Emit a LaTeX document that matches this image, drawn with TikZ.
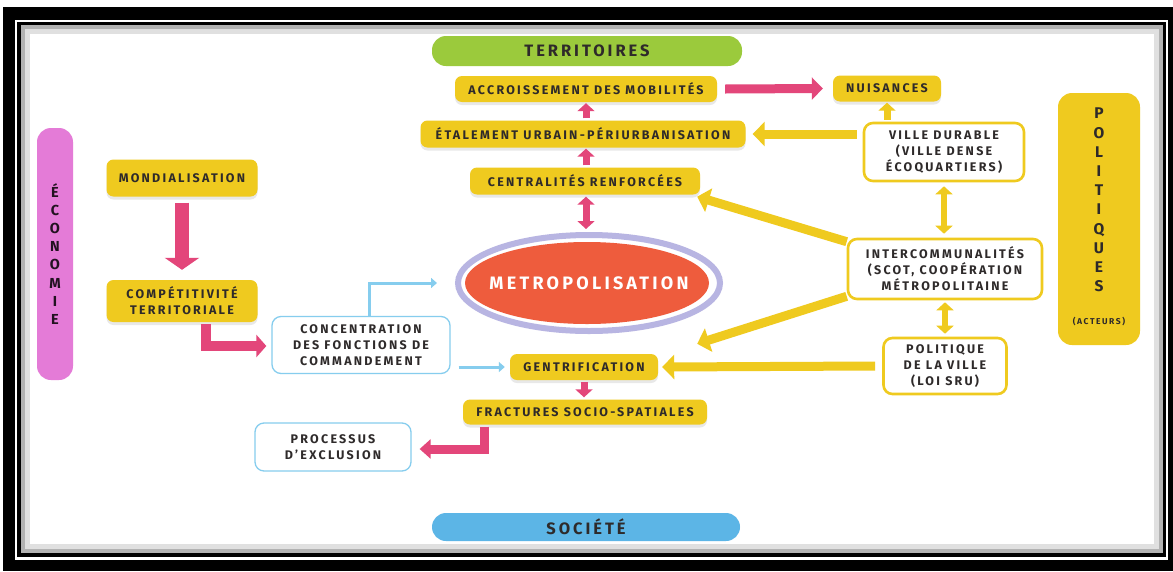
\documentclass[tikz,border=0pt]{standalone}
\usepackage{fontspec}
\setmainfont{Fira Sans}
\newfontfamily\lab{Fira Sans}[LetterSpace=18]
\newfontfamily\labn{Fira Sans}
\usetikzlibrary{arrows.meta,calc,shadows,shapes.geometric}
\definecolor{cy}{HTML}{EFCA1F}
\definecolor{cpk}{HTML}{E3467A}
\definecolor{cbl}{HTML}{86CDEE}
\definecolor{cgr}{HTML}{9BCA3C}
\definecolor{csoc}{HTML}{5CB5E6}
\definecolor{ceco}{HTML}{E47BD7}
\definecolor{ctx}{HTML}{2E2A2A}
\definecolor{cred}{HTML}{EE5C3D}
\definecolor{cring}{HTML}{B8B5E2}
\tikzset{
  lbl/.style={font=\lab\bfseries\fontsize{12.5}{16}\selectfont, text=ctx, align=center, inner sep=0pt},
  ybox/.style={lbl, fill=cy, rounded corners=7pt,
    drop shadow={shadow xshift=0pt, shadow yshift=-3pt, opacity=0.18}},
  wbox/.style={lbl, draw=cy, line width=2.6pt, fill=white, rounded corners=9pt},
  bbox/.style={lbl, draw=cbl, line width=1.3pt, fill=white, rounded corners=9pt},
  pill/.style={font=\lab\bfseries\fontsize{16.5}{18}\selectfont, text=ctx, inner sep=0pt, rounded corners=14pt},
  parrow/.style={draw=cpk, line width=9pt, -{Triangle[length=11pt,width=22pt]}},
  psmall/.style={draw=cpk, line width=7pt, -{Triangle[length=8pt,width=17pt]}},
  pdouble/.style={draw=cpk, line width=7pt, {Triangle[length=8pt,width=17pt]}-{Triangle[length=8pt,width=17pt]}},
  yarrow/.style={draw=cy, line width=9pt, -{Triangle[length=12pt,width=24pt]}},
  ysmall/.style={draw=cy, line width=7pt, -{Triangle[length=8pt,width=17pt]}},
  ydouble/.style={draw=cy, line width=6pt, {Triangle[length=8pt,width=17pt]}-{Triangle[length=8pt,width=17pt]}},
  barrow/.style={draw=cbl, line width=3pt, -{Triangle[length=6pt,width=10pt]}},
}
\begin{document}
\begin{tikzpicture}[x=1pt,y=-1pt]
\useasboundingbox (0,0) rectangle (1173,571);
% frame
\fill[white] (0,0) rectangle (1173,571);
\fill[black] (3,7) rectangle (1173,571);
\fill[white] (15,20) rectangle (1168,560);
\fill[black] (17,22) rectangle (1166,557);
\fill[white] (21,25) rectangle (1163,553);
\draw[black!30, line width=4pt] (23,27) rectangle (1161,551);
\draw[black!12, line width=5pt] (27.5,31.5) rectangle (1156.5,546.5);

% band labels
\node[pill, fill=cgr, minimum width=310pt, minimum height=30pt] (ter) at (587,51) {TERRITOIRES};
\node[pill, fill=csoc, minimum width=308pt, minimum height=28pt] (soc) at (586,527) {SOCIÉTÉ};
\node[lbl, fill=ceco, rounded corners=14pt, minimum width=36pt, minimum height=252pt,
      font=\labn\bfseries\fontsize{14.5}{18.1}\selectfont, text=black!85!ceco] (eco) at (55,254) {É\\C\\O\\N\\O\\M\\I\\E};
\node[lbl, fill=cy, rounded corners=14pt, minimum width=82pt, minimum height=252pt] (polq) at (1099,219) {};
\node[lbl, font=\labn\bfseries\fontsize{15.5}{19.2}\selectfont, anchor=north] (polqt) at (1099,108) {P\\O\\L\\I\\T\\I\\Q\\U\\E\\S};
\node[lbl, font=\lab\bfseries\fontsize{8.5}{10}\selectfont] (act) at (1099,322) {(ACTEURS)};

% territoires column
\node[ybox, minimum width=262pt, minimum height=26pt] (acc) at (586,89) {ACCROISSEMENT DES MOBILITÉS};
\node[ybox, minimum width=108pt, minimum height=26pt] (nui) at (887,88.5) {NUISANCES};
\node[ybox, minimum width=325pt, minimum height=27pt] (eta) at (583,134) {ÉTALEMENT URBAIN-PÉRIURBANISATION};
\node[ybox, minimum width=230pt, minimum height=27pt] (cen) at (585,181) {CENTRALITÉS RENFORCÉES};

% metropolisation
\node[ellipse, draw=cring, line width=6pt, fill=white, minimum width=262pt, minimum height=96pt] (ring) at (589,283) {};
\node[ellipse, fill=cred, minimum width=244pt, minimum height=82pt, inner sep=0pt] (metro) at (587,283) {};
\node[font=\lab\bfseries\fontsize{18}{21}\selectfont, text=white, inner sep=0pt] (metrot) at (589,283) {METROPOLISATION};

% société column
\node[ybox, minimum width=148pt, minimum height=26pt] (gen) at (584,367) {GENTRIFICATION};
\node[ybox, minimum width=244pt, minimum height=25pt] (fra) at (585,412) {FRACTURES SOCIO-SPATIALES};
\node[bbox, minimum width=156pt, minimum height=48pt] (proc) at (333,447) {PROCESSUS\\D’EXCLUSION};

% économie column
\node[ybox, minimum width=151pt, minimum height=37pt] (mon) at (182,178) {MONDIALISATION};
\node[ybox, minimum width=151pt, minimum height=42pt] (comp) at (182,301) {COMPÉTITIVITÉ\\TERRITORIALE};
\node[bbox, minimum width=178pt, minimum height=57pt] (conc) at (361,345) {CONCENTRATION\\DES FONCTIONS DE\\COMMANDEMENT};

% politiques column
\node[wbox, minimum width=160pt, minimum height=58pt] (vd) at (944,152) {VILLE DURABLE\\(VILLE DENSE\\ÉCOQUARTIERS)};
\node[wbox, minimum width=194pt, minimum height=60pt] (inter) at (945,269) {INTERCOMMUNALITÉS\\(SCOT, COOPÉRATION\\MÉTROPOLITAINE};
\node[wbox, minimum width=123pt, minimum height=56pt] (pol) at (945,366) {POLITIQUE\\DE LA VILLE\\(LOI SRU)};

% pink arrows
\draw[parrow] ([xshift=8pt]acc.east) -- ([xshift=-10pt]nui.west);
\draw[psmall] (acc.south |- eta.north) ++(0,-2) -- ([yshift=-1pt]acc.south);
\draw[psmall] (acc.south |- cen.north) ++(0,-2) -- ([yshift=-1pt]acc.south |- eta.south);
\draw[pdouble] ([yshift=-2pt]acc.south |- cen.south) -- ([yshift=3pt]acc.south |- ring.north);
\draw[parrow, line width=14pt, -{Triangle[length=12pt,width=34pt]}] ([yshift=-6pt]mon.south) -- ([yshift=10pt]comp.north);
\draw[parrow, line width=10pt, -{Triangle[length=10pt,width=22pt]}] ([xshift=24pt,yshift=-2pt]comp.south) |- ([xshift=-5pt,yshift=-1pt]conc.west);
\draw[psmall] ([yshift=-2pt]gen.south) -- ([yshift=2pt]gen.south |- fra.north);
\draw[parrow, line width=9pt, -{Triangle[length=11pt,width=19pt]}] ([xshift=-101pt,yshift=-2pt]fra.south) |- ([xshift=8pt,yshift=-2pt]proc.east);

% blue arrows
\draw[barrow] ([xshift=8pt]conc.north) |- ([xshift=-18pt]ring.west);
\draw[barrow] ([xshift=8pt]conc.east |- gen.west) -- ([xshift=-5pt]gen.west);

% yellow arrows
\draw[ysmall] (nui.south |- vd.north) ++(0,-2) -- ([yshift=-1pt]nui.south);
\draw[yarrow] ([xshift=-6pt]vd.west |- eta.east) -- ([xshift=7pt]eta.east);
\draw[ydouble] ([yshift=-4pt]vd.south) -- ([yshift=4pt]vd.south |- inter.north);
\draw[ydouble] ([yshift=-2pt]inter.south) -- ([yshift=3pt]pol.north);
\draw[yarrow] ([yshift=-4pt]inter.north west) -- ($(cen.south east)+(-3,2)$);
\draw[yarrow] ([yshift=4pt]inter.south west) -- ($(gen.north east)+(39,-10)$);
\draw[yarrow] ([xshift=-7pt]pol.west) -- ([xshift=4pt]gen.east);
\end{tikzpicture}
\end{document}
